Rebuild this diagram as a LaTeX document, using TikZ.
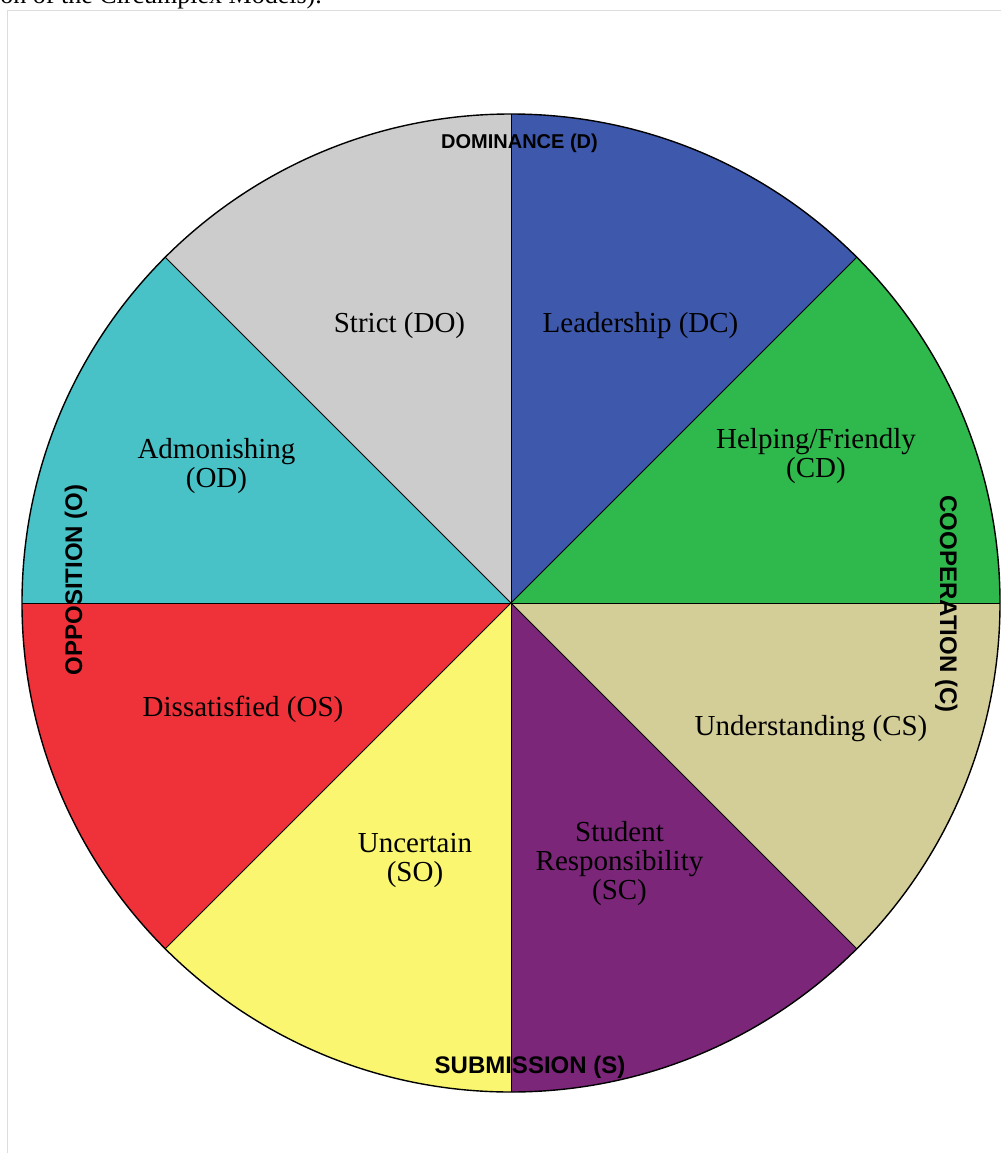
\documentclass[tikz,border=0pt]{standalone}
\usepackage{fontspec}
\setmainfont{Liberation Serif}
\newfontfamily\axisfont{Liberation Sans}
\usetikzlibrary{calc}

\definecolor{strictgray}{HTML}{CCCCCC}
\definecolor{leadblue}{HTML}{3E58AB}
\definecolor{helpgreen}{HTML}{2FB84B}
\definecolor{undertan}{HTML}{D3CD98}
\definecolor{resppurple}{HTML}{7B2679}
\definecolor{uncyellow}{HTML}{FAF670}
\definecolor{dissred}{HTML}{EF323A}
\definecolor{admteal}{HTML}{48C2C6}
\definecolor{framegray}{HTML}{DDDDDD}

\begin{document}
\begin{tikzpicture}[x=1pt, y=-1pt,
    seglabel/.style={align=center, inner sep=0pt, font=\fontsize{29}{29}\selectfont},
    axislabel/.style={inner sep=0pt, font=\axisfont\bfseries\fontsize{24}{26}\selectfont},
    spoke/.style={draw=black, line width=1pt}]
        % --- 1. Parameters ---
        \def\cx{511}
        \def\cy{603}
        \def\rad{489}
        \useasboundingbox (0,0) rectangle (1001,1153);
        \clip (0,0) rectangle (1001,1153);
        \coordinate (C) at (\cx,\cy);

        % --- 2. Page frame and caption ---
        \draw[framegray, line width=1.5pt] (7.5,1153) -- (7.5,10.5) -- (1001,10.5);
        \node[anchor=base east, inner sep=0pt, font=\fontsize{26}{26}\selectfont] (cap) at (322,4) {on of the Circumplex Models).};

        % --- 3. Sectors ---
        \foreach \a/\col in {90/strictgray, 45/leadblue, 0/helpgreen, -45/undertan,
                             -90/resppurple, -135/uncyellow, 180/dissred, 135/admteal} {
            \fill[\col] (C) -- ++(\a:\rad pt) arc[start angle=\a, end angle=\a+45, radius=\rad pt] -- cycle;
        }
        \foreach \a in {0,45,...,315}
            \draw[spoke] (C) -- ++(\a:\rad pt);
        \draw[line width=1.4pt] (C) circle[radius=\rad pt];

        % --- 4. Sector labels ---
        \node[seglabel, anchor=base] (do) at (399.5,332) {Strict (DO)};
        \node[seglabel, anchor=base] (dc) at (640.5,332) {Leadership (DC)};
        \node[seglabel] (cd) at (816,456.5) {Helping/Friendly\\(CD)};
        \node[seglabel, anchor=base] (cs) at (811,735) {Understanding (CS)};
        \node[seglabel] (sc) at (619.5,864) {Student\\Responsibility\\(SC)};
        \node[seglabel] (so) at (415,860) {Uncertain\\(SO)};
        \node[seglabel, anchor=base] (os) at (243,716) {Dissatisfied (OS)};
        \node[seglabel] (od) at (216.5,466) {Admonishing\\(OD)};

        % --- 5. Axis labels ---
        \node[axislabel, anchor=base, font=\axisfont\bfseries\fontsize{20}{22}\selectfont] (dom) at (519.5,149) {DOMINANCE (D)};
        \node[axislabel, anchor=base] (sub) at (530,1073) {SUBMISSION (S)};
        \node[axislabel, anchor=base, rotate=90] (opp) at (82,580) {OPPOSITION (O)};
        \node[axislabel, anchor=base, rotate=-90] (coop) at (940,604) {COOPERATION (C)};
    \end{tikzpicture}
\end{document}
